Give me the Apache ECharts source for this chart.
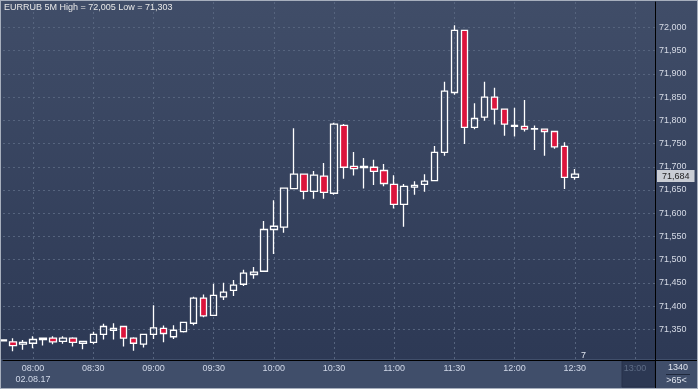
<!DOCTYPE html>
<html><head><meta charset="utf-8">
<script src="https://cdn.jsdelivr.net/npm/echarts@6/dist/echarts.min.js"></script>
<style>
html,body{margin:0;padding:0;background:#2e3a55;overflow:hidden;}
#c{position:absolute;left:0;top:0;width:698px;height:389px;box-sizing:border-box;border:1px solid #a7afbd;}
</style></head><body><div id="c"></div>
<script>
const times = ["07:45","07:50","07:55","08:00","08:05","08:10","08:15","08:20","08:25","08:30","08:35","08:40","08:45","08:50","08:55","09:00","09:05","09:10","09:15","09:20","09:25","09:30","09:35","09:40","09:45","09:50","09:55","10:00","10:05","10:10","10:15","10:20","10:25","10:30","10:35","10:40","10:45","10:50","10:55","11:00","11:05","11:10","11:15","11:20","11:25","11:30","11:35","11:40","11:45","11:50","11:55","12:00","12:05","12:10","12:15","12:20","12:25","12:30","12:35","12:40","12:45","12:50","12:55","13:00","13:05","13:10"];
const opens = [71.325,71.323,71.318,71.320,71.328,71.331,71.324,71.331,71.320,71.322,71.339,71.348,71.356,71.331,71.318,71.339,71.352,71.334,71.345,71.363,71.417,71.380,71.420,71.434,71.447,71.468,71.475,71.565,71.570,71.653,71.684,71.647,71.680,71.643,71.789,71.701,71.698,71.699,71.692,71.662,71.619,71.656,71.662,71.670,71.731,71.860,71.994,71.785,71.807,71.850,71.824,71.787,71.787,71.781,71.781,71.776,71.744,71.677];
const closes = [71.327,71.315,71.322,71.328,71.331,71.323,71.331,71.322,71.324,71.339,71.356,71.352,71.331,71.320,71.339,71.353,71.341,71.348,71.365,71.417,71.379,71.423,71.430,71.445,71.471,71.473,71.565,71.572,71.654,71.684,71.647,71.682,71.645,71.792,71.699,71.696,71.701,71.690,71.664,71.619,71.658,71.660,71.669,71.731,71.863,71.994,71.785,71.804,71.850,71.824,71.792,71.789,71.781,71.782,71.776,71.743,71.677,71.684];
const lows = [71.324,71.303,71.306,71.309,71.315,71.318,71.319,71.313,71.307,71.318,71.328,71.328,71.313,71.304,71.311,71.329,71.322,71.329,71.343,71.359,71.376,71.379,71.413,71.422,71.443,71.459,71.474,71.512,71.558,71.652,71.630,71.631,71.631,71.640,71.674,71.681,71.653,71.661,71.658,71.610,71.571,71.640,71.646,71.669,71.724,71.855,71.749,71.781,71.799,71.791,71.767,71.765,71.776,71.736,71.724,71.739,71.652,71.672];
const highs = [71.328,71.331,71.327,71.335,71.332,71.335,71.335,71.333,71.324,71.345,71.362,71.363,71.357,71.333,71.339,71.402,71.358,71.359,71.365,71.420,71.425,71.448,71.450,71.456,71.478,71.484,71.583,71.628,71.655,71.783,71.685,71.691,71.708,71.795,71.792,71.732,71.719,71.715,71.706,71.682,71.663,71.669,71.684,71.745,71.883,72.005,71.995,71.837,71.883,71.870,71.824,71.827,71.844,71.789,71.781,71.776,71.753,71.695];
const yTicks = [71.35,71.40,71.45,71.50,71.55,71.60,71.65,71.70,71.75,71.80,71.85,71.90,71.95,72.00];
const titleText = "EURRUB 5M High = 72,005 Low = 71,303";
const dateLabel = "02.08.17";
const futureTime = "13:00";
const panelTop = "1340";
const panelBottom = ">65<";
const countdown = "7";

const fmt = v => v.toFixed(3).replace('.', ',');
const candles = opens.map((o, i) => [o, closes[i], lows[i], highs[i]]);
const lastPrice = closes[closes.length - 1];
const isMajor = (idx, val) => val.endsWith(':00') || val.endsWith(':30');
const FONT = 'Liberation Sans, Arial, sans-serif';

const chart = echarts.init(document.getElementById('c'));
chart.setOption({
  animation: false,
  backgroundColor: new echarts.graphic.LinearGradient(0, 0, 0, 1, [
    {offset: 0, color: '#404d68'},
    {offset: 0.925, color: '#2d3955'},
    {offset: 0.926, color: '#404e6a'},
    {offset: 1, color: '#404e6a'}
  ]),
  textStyle: {fontFamily: FONT},
  title: {text: titleText, left: 3, top: 2, padding: 0,
    textStyle: {fontSize: 9, fontWeight: 'normal', color: '#e8e8e8', fontFamily: FONT}},
  grid: {left: 2, right: 42, top: 1, bottom: 28, containLabel: false},
  xAxis: {
    type: 'category', data: times, boundaryGap: false, z: 2,
    axisLine: {show: true, lineStyle: {color: '#000000', width: 1}},
    axisTick: {show: false},
    axisLabel: {
      interval: isMajor, margin: 3, fontSize: 9, lineHeight: 11,
      color: (val) => val === futureTime ? '#5e6c86' : '#d0d8e8',
      formatter: (val, idx) => val === '08:00' ? val + '\n' + dateLabel : val
    },
    splitLine: {show: true, interval: isMajor, lineStyle: {color: '#56647e', type: [2, 3], width: 1}}
  },
  yAxis: {
    type: 'value', position: 'right', min: 71.2839, max: 72.0549, scale: true,
    axisLine: {show: true, lineStyle: {color: '#000000', width: 1}},
    axisTick: {show: false, customValues: yTicks},
    axisLabel: {customValues: yTicks, margin: 4, fontSize: 9, color: '#d6dbe6', formatter: fmt},
    splitLine: {show: true, lineStyle: {color: '#56647e', type: [2, 3], width: 1}}
  },
  series: [{
    type: 'candlestick', data: candles, barWidth: 7, z: 4,
    itemStyle: {color: 'rgba(0,0,0,0)', color0: '#dc143c', borderColor: '#ffffff', borderColor0: '#ffffff', borderWidth: 1.3},
    markLine: {
      symbol: 'none', silent: true, animation: false,
      lineStyle: {color: 'rgba(0,0,0,0)', width: 0, type: 'solid'},
      data: [{yAxis: lastPrice}],
      label: {show: true, position: 'end', distance: 2, formatter: () => fmt(lastPrice), backgroundColor: '#c9cdd4',
        color: '#1e1e1e', padding: [2, 5, 1, 5], fontSize: 9, fontFamily: FONT}
    }
  }],
  graphic: [
    {type: 'rect', z: 1, shape: {x: 621, y: 360, width: 33, height: 26}, style: {fill: '#2c3853', stroke: '#27314a', lineWidth: 1}},
    {type: 'line', z: 5, shape: {x1: 654.5, y1: 359, x2: 654.5, y2: 387}, style: {stroke: '#000000', lineWidth: 1}},
    {type: 'line', z: 5, shape: {x1: 654, y1: 359.5, x2: 696, y2: 359.5}, style: {stroke: '#000000', lineWidth: 1}},
    {type: 'line', z: 5, shape: {x1: 665, y1: 373.5, x2: 689, y2: 373.5}, style: {stroke: '#1f283c', lineWidth: 1}},
    {type: 'text', z: 5, style: {x: 677, y: 366.5, text: panelTop, fill: '#dfe4ee', font: '9px ' + FONT, textAlign: 'center', textVerticalAlign: 'middle'}},
    {type: 'text', z: 5, style: {x: 675.5, y: 379.5, text: panelBottom, fill: '#dfe4ee', font: '9px ' + FONT, textAlign: 'center', textVerticalAlign: 'middle'}},
    {type: 'text', z: 5, style: {x: 582.5, y: 354.5, text: countdown, fill: '#dfe4ee', font: '9px ' + FONT, textAlign: 'center', textVerticalAlign: 'middle'}}
  ]
});
</script></body></html>
